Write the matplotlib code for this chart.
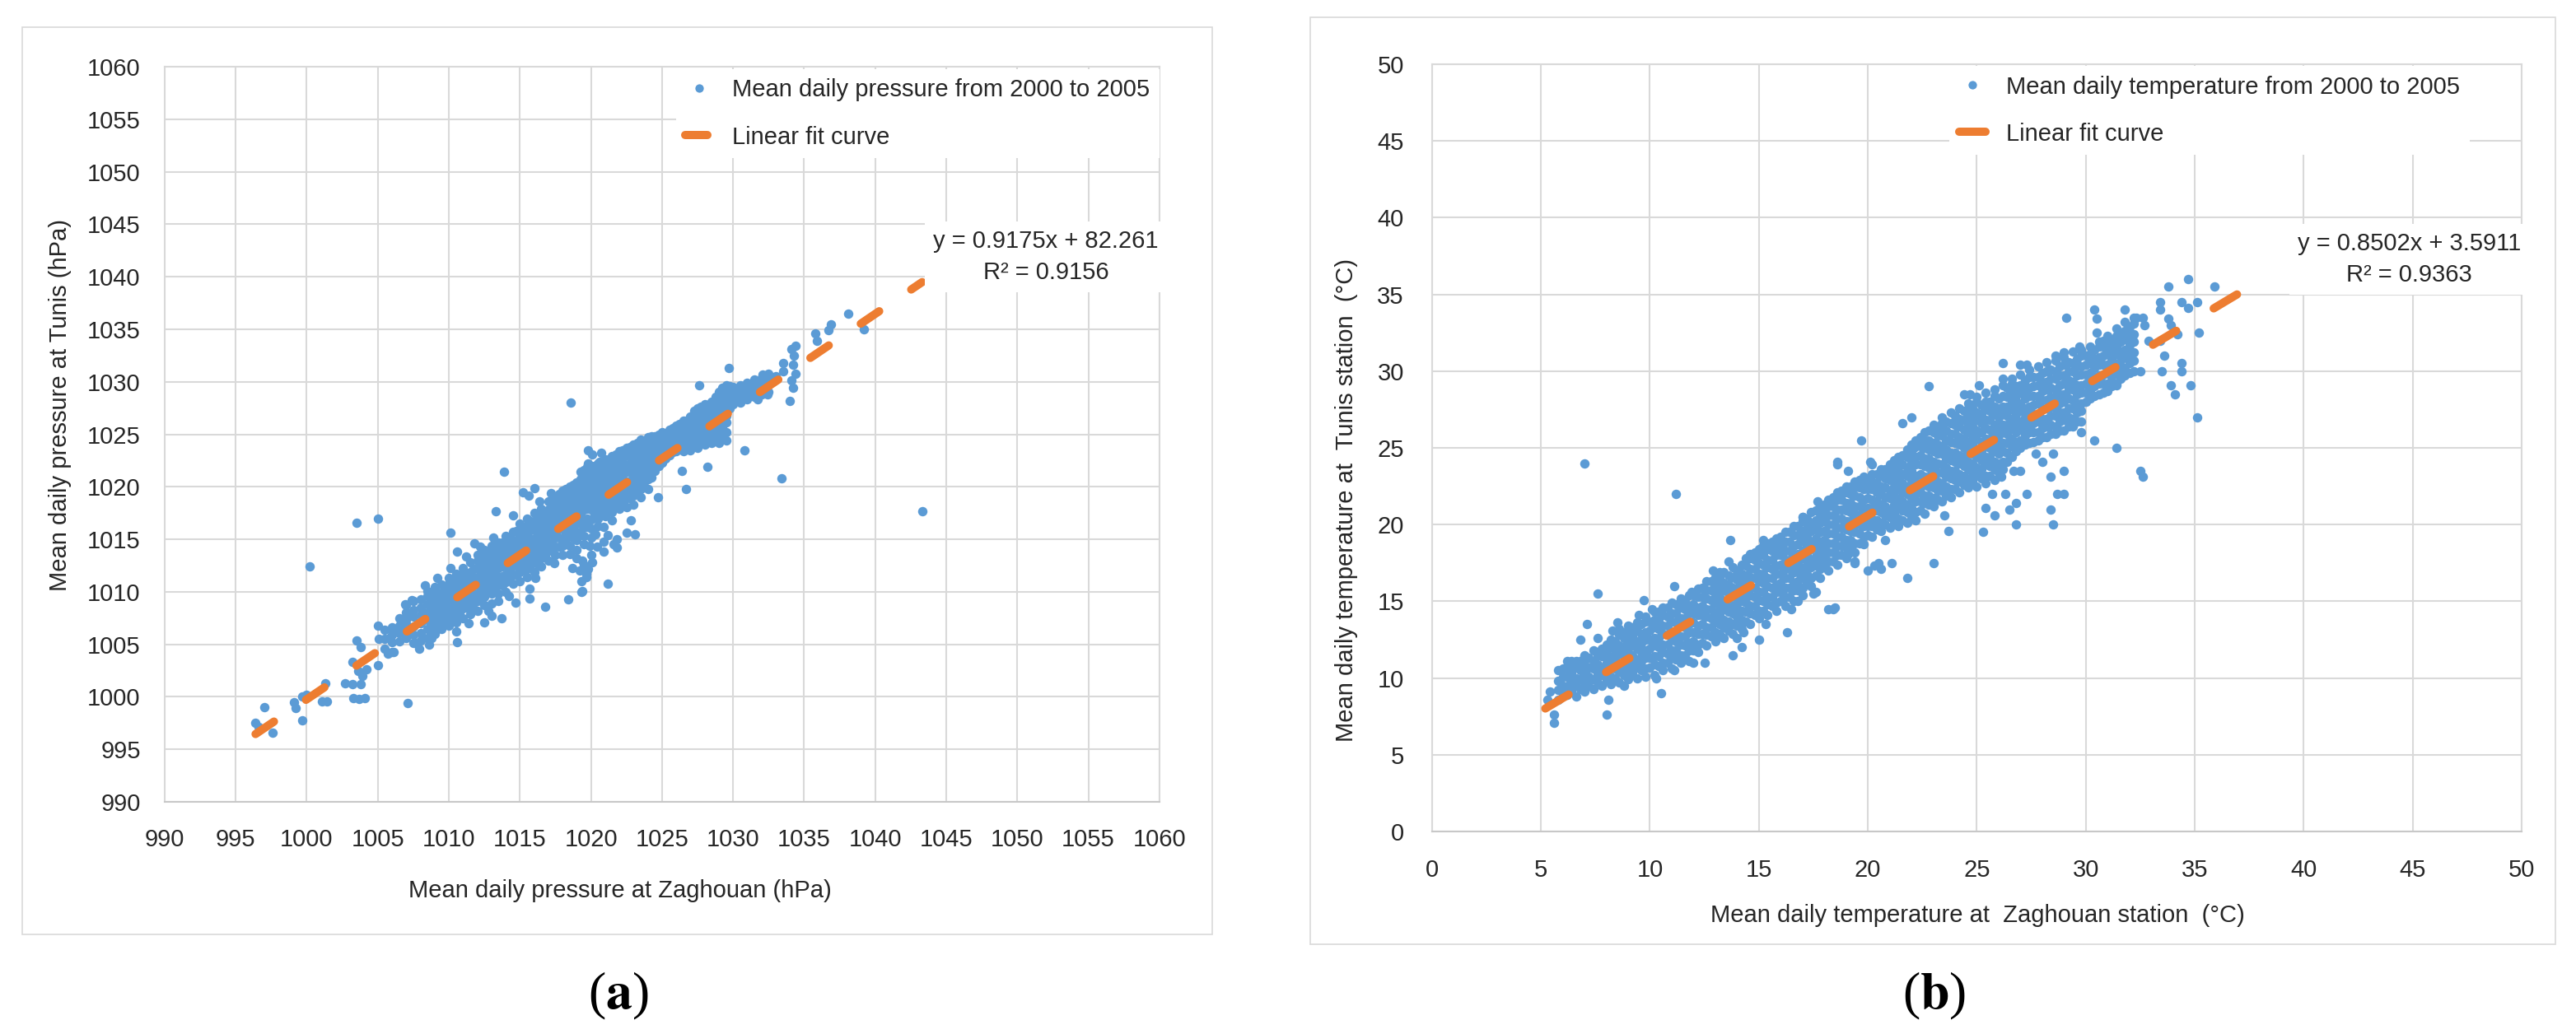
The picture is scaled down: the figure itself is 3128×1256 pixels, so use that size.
import matplotlib
matplotlib.use('Agg')
import matplotlib.pyplot as plt
from matplotlib.patches import Rectangle
from matplotlib.lines import Line2D

plt.rcParams['font.family'] = ['Liberation Sans', 'DejaVu Sans']
plt.rcParams['mathtext.fontset'] = 'stix'

BLUE = '#5B9BD5'
ORANGE = '#ED7D31'
GRID = '#D9D9D9'
TXT = '#262626'

# ---------------- (a) mean daily pressure, Zaghouan vs Tunis (hPa) ----------------
# dense part of the cloud, read column by column: (Zaghouan, [Tunis values])
pres_cols = [
    (1005.5, [1004.6, 1005.5, 1006.4]),
    (1006.0, [1004.3, 1005.2, 1005.9, 1006.6]),
    (1006.5, [1005.3, 1006.1, 1006.8, 1007.5]),
    (1007.0, [1005.6, 1006.4, 1007.3, 1008.0, 1008.7]),
    (1007.5, [1005.1, 1005.9, 1006.7, 1007.6, 1008.3, 1009.1]),
    (1008.0, [1005.4, 1006.1, 1007.0, 1007.8, 1008.5, 1009.3]),
    (1008.5, [1005.6, 1006.5, 1007.3, 1008.0, 1008.8, 1009.6, 1010.1]),
    (1009.0, [1006.0, 1006.8, 1007.7, 1008.4, 1009.2, 1009.9, 1010.5]),
    (1009.5, [1006.5, 1007.4, 1008.1, 1009.0, 1009.7, 1010.7]),
    (1010.0, [1006.8, 1007.7, 1008.4, 1009.3, 1010.0, 1010.8, 1011.3]),
    (1010.5, [1007.1, 1007.8, 1008.7, 1009.4, 1010.3, 1011.0, 1011.7]),
    (1011.0, [1007.5, 1008.4, 1009.1, 1010.0, 1010.7, 1011.6, 1012.3]),
    (1011.5, [1007.9, 1008.7, 1009.6, 1010.3, 1011.2, 1011.9, 1012.8]),
    (1012.0, [1008.2, 1009.1, 1009.8, 1010.7, 1011.4, 1012.3, 1013.0, 1013.5]),
    (1012.5, [1008.7, 1009.5, 1010.4, 1011.1, 1012.0, 1012.7, 1013.5, 1014.0]),
    (1013.0, [1008.9, 1009.8, 1010.5, 1011.4, 1012.1, 1013.0, 1013.7, 1014.4]),
    (1013.5, [1009.1, 1009.8, 1010.7, 1011.4, 1012.3, 1013.0, 1013.9, 1014.7]),
    (1014.0, [1010.0, 1010.9, 1011.6, 1012.5, 1013.2, 1014.1, 1014.8, 1015.3]),
    (1014.5, [1010.8, 1011.6, 1012.5, 1013.2, 1014.1, 1014.8, 1015.7]),
    (1015.0, [1011.0, 1011.9, 1012.6, 1013.5, 1014.2, 1015.1, 1015.8, 1016.5]),
    (1015.5, [1011.4, 1012.2, 1013.1, 1013.8, 1014.7, 1015.4, 1016.3, 1017.0]),
    (1016.0, [1011.9, 1012.8, 1013.5, 1014.4, 1015.1, 1016.0, 1016.7, 1017.5]),
    (1016.5, [1012.4, 1013.2, 1014.1, 1014.8, 1015.7, 1016.4, 1017.3, 1017.9]),
    (1017.0, [1013.0, 1013.9, 1014.6, 1015.5, 1016.2, 1017.1, 1017.8, 1018.6]),
    (1017.5, [1013.5, 1014.3, 1015.2, 1015.9, 1016.8, 1017.5, 1018.4, 1019.1]),
    (1018.0, [1013.5, 1014.4, 1015.1, 1016.0, 1016.7, 1017.6, 1018.3, 1019.0, 1019.6]),
    (1018.5, [1013.6, 1014.4, 1015.3, 1016.0, 1016.9, 1017.6, 1018.5, 1019.2, 1020.0]),
    (1019.0, [1014.0, 1014.9, 1015.6, 1016.5, 1017.2, 1018.1, 1018.8, 1019.7, 1020.4]),
    (1019.5, [1014.5, 1015.3, 1016.2, 1016.9, 1017.8, 1018.5, 1019.4, 1020.1, 1020.9, 1021.6]),
    (1020.0, [1016.9, 1017.8, 1018.5, 1019.4, 1020.1, 1020.9, 1021.6, 1022.0]),
    (1020.5, [1017.0, 1017.9, 1018.6, 1019.5, 1020.2, 1021.1, 1021.8, 1022.2]),
    (1021.0, [1017.2, 1018.1, 1018.8, 1019.7, 1020.4, 1021.3, 1022.1, 1022.6]),
    (1021.5, [1017.6, 1018.4, 1019.3, 1020.0, 1020.9, 1021.6, 1022.4, 1022.9]),
    (1022.0, [1017.9, 1018.8, 1019.5, 1020.4, 1021.1, 1022.0, 1022.7, 1023.4]),
    (1022.5, [1018.1, 1018.9, 1019.8, 1020.5, 1021.4, 1022.1, 1023.0, 1023.7]),
    (1023.0, [1018.3, 1019.2, 1019.9, 1020.8, 1021.5, 1022.4, 1023.1, 1024.0]),
    (1023.5, [1019.0, 1019.8, 1020.7, 1021.4, 1022.3, 1023.0, 1023.9, 1024.5]),
    (1024.0, [1019.8, 1020.7, 1021.4, 1022.3, 1023.0, 1023.9, 1024.7]),
    (1024.5, [1021.5, 1022.3, 1023.2, 1023.9, 1024.8]),
    (1025.0, [1022.3, 1023.2, 1023.9, 1024.7, 1025.2]),
    (1025.5, [1023.0, 1023.8, 1024.7, 1025.4]),
    (1026.0, [1023.4, 1024.3, 1025.0, 1025.8]),
    (1026.5, [1023.4, 1024.2, 1025.1, 1025.8, 1026.3]),
    (1027.0, [1023.5, 1024.4, 1025.1, 1026.0, 1026.7]),
    (1027.5, [1023.7, 1024.5, 1025.4, 1026.1, 1027.0, 1027.5]),
    (1028.0, [1024.0, 1024.9, 1025.6, 1026.5, 1027.2, 1027.9]),
    (1028.5, [1024.2, 1025.0, 1025.9, 1026.6, 1027.5, 1028.1]),
    (1029.0, [1024.2, 1025.1, 1025.8, 1026.7, 1027.4, 1028.3, 1029.0]),
    (1029.5, [1024.4, 1025.2, 1026.1, 1026.8, 1027.7, 1028.4, 1029.2, 1029.7]),
    (1030.0, [1027.9, 1028.8, 1029.5]),
    (1030.5, [1028.0, 1028.8, 1029.7]),
    (1031.0, [1028.3, 1029.2, 1029.9]),
    (1031.5, [1028.6, 1029.4, 1030.2]),
    (1032.0, [1028.8, 1029.7, 1030.4]),
    (1032.5, [1029.0, 1030.1, 1030.8]),
]
# days in between those columns, middle of the band
pres_mid = [
    (1008.75, [1006.2, 1007.0, 1007.8, 1008.6, 1009.4]),
    (1009.25, [1006.7, 1007.5, 1008.3, 1009.1, 1009.9]),
    (1009.75, [1007.1, 1007.9, 1008.7, 1009.5, 1010.3]),
    (1010.25, [1007.6, 1008.4, 1009.2, 1010.0, 1010.8]),
    (1010.75, [1008.0, 1008.8, 1009.7, 1010.5, 1011.3]),
    (1011.25, [1008.5, 1009.3, 1010.1, 1010.9, 1011.7]),
    (1011.75, [1008.9, 1009.8, 1010.6, 1011.4, 1012.2]),
    (1012.25, [1009.4, 1010.2, 1011.0, 1011.8, 1012.6, 1013.3]),
    (1012.75, [1009.9, 1010.7, 1011.5, 1012.3, 1013.1, 1013.8]),
    (1013.25, [1010.2, 1011.1, 1011.9, 1012.7, 1013.5, 1014.2]),
    (1013.75, [1010.6, 1011.5, 1012.4, 1013.2, 1014.0, 1014.7]),
    (1014.25, [1011.2, 1012.0, 1012.9, 1013.7, 1014.5, 1015.2]),
    (1014.75, [1011.6, 1012.5, 1013.3, 1014.1, 1014.9, 1015.8]),
    (1015.25, [1012.1, 1012.9, 1013.8, 1014.6, 1015.4, 1016.2]),
    (1015.75, [1012.5, 1013.4, 1014.2, 1015.0, 1015.9, 1016.7]),
    (1016.25, [1013.0, 1013.8, 1014.7, 1015.5, 1016.3, 1017.1]),
    (1016.75, [1013.4, 1014.3, 1015.1, 1016.0, 1016.8, 1017.6]),
    (1017.25, [1013.9, 1014.7, 1015.6, 1016.4, 1017.3, 1018.1, 1018.8]),
    (1017.75, [1014.3, 1015.2, 1016.0, 1016.9, 1017.7, 1018.5, 1019.3]),
    (1018.25, [1014.7, 1015.6, 1016.5, 1017.3, 1018.2, 1019.0, 1019.8]),
    (1018.75, [1015.2, 1016.1, 1016.9, 1017.8, 1018.6, 1019.4, 1020.2]),
    (1019.25, [1015.7, 1016.5, 1017.4, 1018.2, 1019.1, 1019.9, 1020.7, 1021.4]),
    (1019.75, [1016.2, 1017.0, 1017.9, 1018.7, 1019.6, 1020.4, 1021.2, 1021.9]),
    (1020.25, [1017.4, 1018.2, 1019.0, 1019.8, 1020.6, 1021.4, 1022.0]),
    (1020.75, [1017.6, 1018.4, 1019.3, 1020.1, 1020.9, 1021.6, 1022.3]),
    (1021.25, [1017.9, 1018.7, 1019.6, 1020.4, 1021.2, 1022.0, 1022.6]),
    (1021.75, [1018.3, 1019.1, 1019.9, 1020.7, 1021.5, 1022.3, 1023.1]),
    (1022.25, [1018.6, 1019.4, 1020.3, 1021.1, 1021.9, 1022.7, 1023.5]),
    (1022.75, [1018.9, 1019.7, 1020.6, 1021.4, 1022.2, 1023.0, 1023.8]),
    (1023.25, [1019.4, 1020.3, 1021.1, 1021.9, 1022.7, 1023.5, 1024.2]),
    (1023.75, [1020.1, 1021.0, 1021.8, 1022.6, 1023.4, 1024.2]),
    (1024.25, [1020.9, 1021.8, 1022.6, 1023.4, 1024.2, 1024.8]),
    (1024.75, [1022.0, 1022.8, 1023.5, 1024.3, 1025.0]),
    (1025.25, [1022.7, 1023.5, 1024.3, 1025.0]),
    (1025.75, [1023.3, 1024.1, 1024.9, 1025.6]),
    (1026.25, [1023.8, 1024.6, 1025.4, 1026.0]),
    (1026.75, [1023.9, 1024.7, 1025.5, 1026.3]),
    (1027.25, [1024.1, 1024.9, 1025.7, 1026.5, 1027.2]),
    (1027.75, [1024.4, 1025.2, 1026.0, 1026.8, 1027.6]),
    (1028.25, [1024.6, 1025.4, 1026.2, 1027.0, 1027.8]),
    (1028.75, [1024.7, 1025.5, 1026.3, 1027.1, 1027.9, 1028.6]),
    (1029.25, [1024.8, 1025.6, 1026.4, 1027.2, 1028.0, 1028.8, 1029.4]),
    (1029.75, [1027.5, 1028.3, 1029.1, 1029.6]),
    (1030.25, [1028.4, 1029.2]),
    (1030.75, [1028.5, 1029.3]),
    (1031.25, [1028.8, 1029.6]),
    (1031.75, [1029.1, 1029.9]),
]
# scattered days around the cloud (Zaghouan, Tunis)
pres_out = [
    (996.4, 997.5), (996.6, 997.1), (997.0, 999.0), (997.6, 996.6), (999.1, 999.5),
    (999.2, 998.9), (999.7, 997.8), (999.7, 1000.0), (1000.0, 1000.2), (1001.1, 999.6),
    (1001.4, 999.6), (1001.3, 1001.3), (1000.2, 1012.4), (1003.5, 1016.6), (1005.0, 1017.0),
    (1002.7, 1001.3), (1003.2, 1001.2), (1003.8, 1001.2), (1003.9, 1002.0), (1003.2, 1003.3),
    (1003.6, 1002.5), (1004.2, 1002.6), (1003.5, 1005.4), (1003.8, 1004.7), (1005.0, 1006.8),
    (1005.1, 1005.5), (1005.0, 1003.0), (1003.3, 999.9), (1003.7, 999.8), (1004.1, 999.9),
    (1007.1, 999.4), (1005.7, 1004.1), (1006.1, 1004.3), (1005.8, 1005.6), (1006.0, 1006.4),
    (1006.4, 1006.2), (1006.9, 1006.7), (1007.0, 1006.9), (1006.9, 1008.8), (1007.4, 1009.2),
    (1007.6, 1005.1), (1007.9, 1004.6), (1008.6, 1005.0), (1008.8, 1005.6),
    (1010.1, 1015.6), (1010.6, 1013.8), (1010.1, 1012.3), (1011.8, 1014.6), (1013.3, 1017.7),
    (1013.9, 1021.4), (1014.5, 1017.3), (1015.2, 1019.5), (1015.6, 1019.2), (1016.0, 1019.9),
    (1014.7, 1009.0), (1015.7, 1009.4), (1016.8, 1008.6), (1018.4, 1009.3), (1019.4, 1010.1),
    (1019.3, 1011.0), (1019.7, 1011.4), (1018.7, 1012.3), (1019.8, 1022.2), (1020.1, 1023.1),
    (1012.5, 1007.1), (1013.0, 1007.7), (1013.7, 1007.5), (1010.6, 1005.2), (1010.5, 1006.2),
    (1010.0, 1007.2), (1011.7, 1008.3), (1015.7, 1010.3), (1016.3, 1012.6), (1018.6, 1028.0),
    (1019.0, 1013.2), (1019.5, 1012.6), (1020.0, 1013.5), (1020.0, 1015.2), (1020.0, 1016.0),
    (1019.9, 1014.4), (1019.2, 1012.0), (1019.4, 1013.0), (1019.8, 1012.2), (1020.3, 1015.5),
    (1020.5, 1016.3), (1020.9, 1016.2), (1021.2, 1015.4), (1021.5, 1016.8), (1021.8, 1015.0),
    (1021.6, 1014.5), (1020.9, 1014.8), (1011.2, 1013.4), (1012.2, 1014.3), (1013.1, 1015.2),
    (1016.4, 1018.6), (1017.2, 1019.4), (1014.2, 1009.6), (1016.1, 1011.3), (1017.4, 1012.7),
    (1009.2, 1011.3), (1008.3, 1010.6), (1011.4, 1007.0), (1012.8, 1008.2),
    (1027.6, 1029.7), (1029.7, 1031.3), (1030.8, 1023.5), (1028.2, 1021.9), (1033.4, 1020.8),
    (1043.3, 1017.7), (1035.8, 1034.6), (1035.9, 1033.9), (1036.9, 1035.5), (1036.7, 1034.9),
    (1038.1, 1036.5), (1039.2, 1035.0), (1034.4, 1033.4), (1034.1, 1033.1), (1034.0, 1028.2),
    (1034.2, 1029.4), (1034.1, 1030.1), (1033.5, 1031.8), (1032.1, 1030.7), (1031.7, 1028.3),
    (1032.4, 1028.8), (1024.7, 1019.0), (1026.7, 1019.8), (1026.4, 1021.5), (1021.2, 1010.8),
    (1020.1, 1012.8), (1020.9, 1013.8), (1020.4, 1014.3), (1021.8, 1014.2), (1022.5, 1015.6),
    (1023.1, 1015.5), (1022.8, 1016.8), (1019.3, 1010.0), (1019.7, 1011.7), (1019.8, 1023.5),
    (1020.7, 1023.2), (1020.6, 1022.4), (1022.4, 1023.3), (1033.5, 1031.0), (1034.3, 1032.5),
    (1033.0, 1030.5), (1034.4, 1030.8), (1034.2, 1031.6),
]
pres_slope, pres_icpt, pres_r2 = 0.9175, 82.261, 0.9156
pres_fit_x = [996.4, 1043.3]
pres_ticks = list(range(990, 1061, 5))

# ---------------- (b) mean daily temperature, Zaghouan vs Tunis (degC) ----------------
temp_cols = [
    (5.8, [8.6, 9.2, 9.8, 10.5]),
    (6.2, [8.9, 9.4, 10.1, 10.6]),
    (6.6, [8.8, 9.5, 10.0, 10.7, 11.1]),
    (7.0, [9.1, 9.7, 10.3, 10.9, 11.4]),
    (7.4, [9.3, 9.9, 10.6, 11.1, 11.8]),
    (7.8, [9.5, 10.2, 10.7, 11.4, 11.9]),
    (8.2, [9.6, 10.1, 10.8, 11.3, 12.0, 12.5]),
    (8.6, [9.7, 10.4, 10.9, 11.6, 12.1, 12.8, 13.2]),
    (9.0, [9.9, 10.5, 11.1, 11.7, 12.3, 12.9, 13.4]),
    (9.4, [10.0, 10.7, 11.2, 11.9, 12.4, 13.1, 13.6]),
    (9.8, [10.1, 10.6, 11.3, 11.8, 12.5, 13.0, 13.7, 14.0]),
    (10.2, [10.2, 10.9, 11.4, 12.1, 12.6, 13.3, 13.8, 14.3]),
    (10.6, [10.5, 11.0, 11.7, 12.2, 12.9, 13.4, 14.1, 14.6]),
    (11.0, [10.6, 11.3, 11.8, 12.5, 13.0, 13.7, 14.2, 14.9]),
    (11.4, [11.0, 11.5, 12.2, 12.7, 13.4, 13.9, 14.6, 15.2]),
    (11.8, [11.1, 11.8, 12.3, 13.0, 13.5, 14.2, 14.7, 15.4]),
    (12.2, [11.7, 12.2, 12.9, 13.4, 14.1, 14.6, 15.3, 15.8]),
    (12.6, [12.1, 12.8, 13.3, 14.0, 14.5, 15.2, 15.7, 16.3]),
    (13.0, [12.4, 13.0, 13.7, 14.2, 14.9, 15.4, 16.1, 16.6]),
    (13.4, [12.6, 13.3, 13.8, 14.5, 15.0, 15.7, 16.2, 16.9]),
    (13.8, [12.9, 13.5, 14.2, 14.7, 15.4, 15.9, 16.6, 17.2]),
    (14.2, [13.2, 13.8, 14.4, 15.0, 15.6, 16.2, 16.8, 17.4]),
    (14.6, [13.5, 14.2, 14.7, 15.4, 15.9, 16.6, 17.1, 17.8, 18.1]),
    (15.0, [13.9, 14.4, 15.1, 15.6, 16.3, 16.8, 17.5, 18.0, 18.4]),
    (15.4, [14.1, 14.8, 15.3, 16.0, 16.5, 17.2, 17.7, 18.4, 18.8]),
    (15.8, [14.4, 14.9, 15.6, 16.1, 16.8, 17.3, 18.0, 18.5, 19.1]),
    (16.2, [14.7, 15.3, 15.9, 16.5, 17.1, 17.7, 18.3, 18.9, 19.5]),
    (16.6, [15.0, 15.7, 16.2, 16.9, 17.4, 18.1, 18.6, 19.3, 19.9]),
    (17.0, [15.4, 15.9, 16.6, 17.1, 17.8, 18.3, 19.0, 19.5, 20.2, 20.5]),
    (17.4, [16.0, 16.5, 17.2, 17.7, 18.4, 18.9, 19.6, 20.1, 20.8]),
    (17.8, [16.5, 17.1, 17.7, 18.3, 18.9, 19.5, 20.1, 20.7, 21.2]),
    (18.2, [17.0, 17.6, 18.2, 18.8, 19.4, 20.0, 20.6, 21.2, 21.6]),
    (18.6, [17.4, 18.0, 18.6, 19.2, 19.8, 20.4, 21.0, 21.6, 22.1]),
    (19.0, [17.8, 18.5, 19.0, 19.7, 20.2, 20.9, 21.4, 22.1, 22.5]),
    (19.4, [18.2, 18.8, 19.5, 20.0, 20.7, 21.2, 21.9, 22.4, 22.8]),
    (19.8, [18.7, 19.2, 19.9, 20.4, 21.1, 21.6, 22.3, 22.8, 23.1]),
    (20.2, [19.2, 19.9, 20.4, 21.1, 21.6, 22.3, 22.8, 23.3]),
    (20.6, [19.6, 20.1, 20.8, 21.3, 22.0, 22.5, 23.2, 23.6]),
    (21.0, [19.8, 20.5, 21.0, 21.7, 22.2, 22.9, 23.4, 23.9]),
    (21.4, [19.9, 20.4, 21.1, 21.6, 22.3, 22.8, 23.5, 24.0, 24.4]),
    (21.8, [20.1, 20.8, 21.3, 22.0, 22.5, 23.2, 23.7, 24.4, 24.9]),
    (22.2, [20.3, 20.8, 21.5, 22.0, 22.7, 23.2, 23.9, 24.4, 25.1, 25.5]),
    (22.6, [20.7, 21.4, 21.9, 22.6, 23.1, 23.8, 24.3, 25.0, 25.5, 26.0]),
    (23.0, [21.2, 21.7, 22.4, 22.9, 23.6, 24.1, 24.8, 25.3, 26.0, 26.5]),
    (23.4, [21.5, 22.2, 22.7, 23.4, 23.9, 24.6, 25.1, 25.8, 26.3, 27.0]),
    (23.8, [21.8, 22.3, 23.0, 23.5, 24.2, 24.7, 25.4, 25.9, 26.6, 27.3]),
    (24.2, [22.1, 22.8, 23.3, 24.0, 24.5, 25.2, 25.7, 26.4, 26.9, 27.6]),
    (24.6, [22.4, 22.9, 23.6, 24.1, 24.8, 25.3, 26.0, 26.5, 27.2, 27.9]),
    (25.0, [22.5, 23.2, 23.7, 24.4, 24.9, 25.6, 26.1, 26.8, 27.3, 28.0, 28.3]),
    (25.4, [22.7, 23.2, 23.9, 24.4, 25.1, 25.6, 26.3, 26.8, 27.5, 28.0, 28.6]),
    (25.8, [22.9, 23.6, 24.1, 24.8, 25.3, 26.0, 26.5, 27.2, 27.7, 28.4, 28.8]),
    (26.2, [23.6, 24.1, 24.8, 25.3, 26.0, 26.5, 27.2, 27.7, 28.4, 29.1]),
    (26.6, [24.4, 25.1, 25.6, 26.3, 26.8, 27.5, 28.0, 28.7, 29.2, 29.5]),
    (27.0, [25.0, 25.5, 26.2, 26.7, 27.4, 27.9, 28.6, 29.1, 29.8]),
    (27.4, [25.3, 26.0, 26.5, 27.2, 27.7, 28.4, 28.9, 29.6, 30.1]),
    (27.8, [25.5, 26.0, 26.7, 27.2, 27.9, 28.4, 29.1, 29.6, 30.3]),
    (28.2, [25.7, 26.4, 26.9, 27.6, 28.1, 28.8, 29.3, 30.0, 30.6]),
    (28.6, [25.9, 26.4, 27.1, 27.6, 28.3, 28.8, 29.5, 30.0, 30.7, 31.0]),
    (29.0, [26.1, 26.8, 27.3, 28.0, 28.5, 29.2, 29.7, 30.4, 30.9, 31.2]),
    (29.4, [26.4, 26.9, 27.6, 28.1, 28.8, 29.3, 30.0, 30.5, 31.3]),
    (29.8, [26.7, 27.4, 27.9, 28.6, 29.1, 29.8, 30.3, 31.0, 31.4]),
    (30.2, [28.2, 28.7, 29.4, 29.9, 30.6, 31.1, 31.6]),
    (30.6, [28.5, 29.2, 29.7, 30.4, 30.9, 31.6, 31.9]),
    (31.0, [28.7, 29.2, 29.9, 30.4, 31.1, 31.6, 32.3]),
    (31.4, [29.2, 29.9, 30.4, 31.1, 31.6, 32.3, 32.8]),
    (31.8, [29.7, 30.2, 30.9, 31.4, 32.1, 32.6, 33.2]),
    (32.2, [30.0, 30.7, 31.2, 31.9, 32.4, 33.1, 33.5]),
]
temp_mid = [
    (6.0, [8.9, 9.5, 10.1]),
    (6.4, [9.1, 9.7, 10.3, 10.9]),
    (6.8, [9.3, 9.9, 10.5, 11.1]),
    (7.2, [9.5, 10.1, 10.7, 11.3]),
    (7.6, [9.7, 10.3, 10.9, 11.5]),
    (8.0, [9.8, 10.4, 11.0, 11.6, 12.2]),
    (8.4, [10.0, 10.6, 11.2, 11.8, 12.4]),
    (8.8, [10.2, 10.8, 11.4, 12.0, 12.6, 13.0]),
    (9.2, [10.3, 10.9, 11.5, 12.1, 12.7, 13.3]),
    (9.6, [10.5, 11.1, 11.7, 12.3, 12.9, 13.5]),
    (10.0, [10.7, 11.3, 11.9, 12.5, 13.1, 13.7]),
    (10.4, [10.8, 11.4, 12.0, 12.6, 13.2, 13.8, 14.3]),
    (10.8, [11.0, 11.6, 12.2, 12.8, 13.4, 14.0, 14.6]),
    (11.2, [11.2, 11.8, 12.4, 13.0, 13.6, 14.2, 14.8]),
    (11.6, [11.5, 12.1, 12.7, 13.3, 13.9, 14.5, 15.1]),
    (12.0, [11.8, 12.4, 13.0, 13.6, 14.2, 14.8, 15.4]),
    (12.4, [12.3, 12.9, 13.5, 14.1, 14.7, 15.3, 15.9]),
    (12.8, [12.7, 13.3, 13.9, 14.5, 15.1, 15.7, 16.3]),
    (13.2, [12.9, 13.5, 14.1, 14.7, 15.3, 15.9, 16.5]),
    (13.6, [13.1, 13.7, 14.3, 14.9, 15.5, 16.1, 16.7]),
    (14.0, [13.4, 14.0, 14.6, 15.2, 15.8, 16.4, 17.0]),
    (14.4, [13.7, 14.3, 14.9, 15.5, 16.1, 16.7, 17.3, 17.8]),
    (14.8, [14.1, 14.7, 15.3, 15.9, 16.5, 17.1, 17.7, 18.2]),
    (15.2, [14.4, 15.0, 15.6, 16.2, 16.8, 17.4, 18.0, 18.6]),
    (15.6, [14.7, 15.3, 15.9, 16.5, 17.1, 17.7, 18.3, 18.9]),
    (16.0, [15.0, 15.6, 16.2, 16.8, 17.4, 18.0, 18.6, 19.2]),
    (16.4, [15.3, 15.9, 16.5, 17.1, 17.7, 18.3, 18.9, 19.5]),
    (16.8, [15.7, 16.3, 16.9, 17.5, 18.1, 18.7, 19.3, 19.9]),
    (17.2, [16.2, 16.8, 17.4, 18.0, 18.6, 19.2, 19.8, 20.4]),
    (17.6, [16.7, 17.3, 17.9, 18.5, 19.1, 19.7, 20.3, 20.9]),
    (18.0, [17.2, 17.8, 18.4, 19.0, 19.6, 20.2, 20.8, 21.3]),
    (18.4, [17.6, 18.2, 18.8, 19.4, 20.0, 20.6, 21.2, 21.8]),
    (18.8, [18.0, 18.6, 19.2, 19.8, 20.4, 21.0, 21.6, 22.2]),
    (19.2, [18.4, 19.0, 19.6, 20.2, 20.8, 21.4, 22.0, 22.5]),
    (19.6, [18.8, 19.4, 20.0, 20.6, 21.2, 21.8, 22.4, 22.9]),
    (20.0, [19.3, 19.9, 20.5, 21.1, 21.7, 22.3, 22.9]),
    (20.4, [19.7, 20.3, 20.9, 21.5, 22.1, 22.7, 23.3]),
    (20.8, [20.0, 20.6, 21.2, 21.8, 22.4, 23.0, 23.6]),
    (21.2, [20.1, 20.7, 21.3, 21.9, 22.5, 23.1, 23.7, 24.2]),
    (21.6, [20.3, 20.9, 21.5, 22.1, 22.7, 23.3, 23.9, 24.5]),
    (22.0, [20.5, 21.1, 21.7, 22.3, 22.9, 23.5, 24.1, 24.7, 25.2]),
    (22.4, [20.9, 21.5, 22.1, 22.7, 23.3, 23.9, 24.5, 25.1, 25.7]),
    (22.8, [21.3, 21.9, 22.5, 23.1, 23.7, 24.3, 24.9, 25.5, 26.1]),
    (23.2, [21.6, 22.2, 22.8, 23.4, 24.0, 24.6, 25.2, 25.8, 26.4]),
    (23.6, [21.9, 22.5, 23.1, 23.7, 24.3, 24.9, 25.5, 26.1, 26.7]),
    (24.0, [22.3, 22.9, 23.5, 24.1, 24.7, 25.3, 25.9, 26.5, 27.1]),
    (24.4, [22.6, 23.2, 23.8, 24.4, 25.0, 25.6, 26.2, 26.8, 27.4]),
    (24.8, [22.8, 23.4, 24.0, 24.6, 25.2, 25.8, 26.4, 27.0, 27.6]),
    (25.2, [23.0, 23.6, 24.2, 24.8, 25.4, 26.0, 26.6, 27.2, 27.8]),
    (25.6, [23.2, 23.8, 24.4, 25.0, 25.6, 26.2, 26.8, 27.4, 28.0]),
    (26.0, [23.4, 24.0, 24.6, 25.2, 25.8, 26.4, 27.0, 27.6, 28.2]),
    (26.4, [24.1, 24.7, 25.3, 25.9, 26.5, 27.1, 27.7, 28.3, 28.9]),
    (26.8, [24.8, 25.4, 26.0, 26.6, 27.2, 27.8, 28.4, 29.0]),
    (27.2, [25.2, 25.8, 26.4, 27.0, 27.6, 28.2, 28.8, 29.4]),
    (27.6, [25.4, 26.0, 26.6, 27.2, 27.8, 28.4, 29.0, 29.6]),
    (28.0, [25.7, 26.3, 26.9, 27.5, 28.1, 28.7, 29.3, 29.9]),
    (28.4, [25.9, 26.5, 27.1, 27.7, 28.3, 28.9, 29.5, 30.1]),
    (28.8, [26.1, 26.7, 27.3, 27.9, 28.5, 29.1, 29.7, 30.3]),
    (29.2, [26.4, 27.0, 27.6, 28.2, 28.8, 29.4, 30.0, 30.6]),
    (29.6, [26.7, 27.3, 27.9, 28.5, 29.1, 29.7, 30.3, 30.8]),
    (30.0, [28.0, 28.6, 29.2, 29.8, 30.4, 31.0]),
    (30.4, [28.4, 29.0, 29.6, 30.2, 30.8, 31.4]),
    (30.8, [28.6, 29.2, 29.8, 30.4, 31.0, 31.6]),
    (31.2, [29.0, 29.6, 30.2, 30.8, 31.4, 32.0]),
    (31.6, [29.5, 30.1, 30.7, 31.3, 31.9, 32.5]),
    (32.0, [29.9, 30.5, 31.1, 31.7, 32.3, 32.9]),
]
temp_out = [
    (5.4, 9.1), (5.6, 7.6), (5.6, 7.1), (5.3, 8.6), (6.2, 11.1), (6.4, 11.1), (6.0, 10.6),
    (6.3, 9.6), (6.6, 9.9), (7.1, 13.5), (6.8, 12.5), (7.6, 12.6), (7.0, 11.5), (8.1, 8.6),
    (8.0, 7.6), (7.6, 15.5), (8.5, 13.6), (8.3, 13.1), (9.2, 13.1), (8.8, 9.5), (9.7, 15.1),
    (9.5, 14.1), (10.1, 14.5), (10.5, 9.0), (10.3, 10.0), (11.1, 16.0), (11.2, 22.0),
    (11.9, 15.6), (12.0, 11.0), (12.5, 11.0), (11.1, 10.5), (12.9, 17.0), (13.2, 16.9),
    (13.7, 19.0), (13.6, 17.6), (13.8, 11.5), (14.2, 12.0), (14.3, 13.0), (14.0, 12.6),
    (15.2, 19.0), (15.0, 12.5), (15.3, 13.5), (16.3, 13.0), (17.0, 20.5), (16.5, 14.5),
    (16.8, 15.0), (17.7, 21.5), (17.5, 15.5), (18.2, 14.5), (18.4, 14.5), (19.1, 18.1),
    (19.4, 17.6), (20.0, 17.0), (20.3, 17.3), (7.0, 24.0), (17.6, 15.6), (18.5, 14.6),
    (18.9, 22.1), (19.4, 17.5), (19.7, 25.5), (18.6, 24.1), (19.1, 23.5), (20.1, 24.1),
    (20.2, 23.9), (18.6, 23.9), (20.5, 17.5), (20.6, 17.1), (20.8, 19.0), (21.1, 17.5),
    (21.6, 26.6), (22.0, 27.0), (21.8, 16.5), (22.1, 25.0), (22.8, 29.0), (23.4, 26.6),
    (23.5, 20.6), (23.7, 19.6), (23.0, 17.5), (24.4, 28.5), (24.7, 28.5), (25.1, 29.1),
    (25.3, 19.5), (25.4, 21.1), (25.7, 22.0), (25.8, 20.6), (26.1, 23.1), (26.2, 30.5),
    (26.2, 29.5), (26.3, 22.0), (26.8, 21.4), (26.5, 21.0), (26.8, 20.0), (26.7, 23.5),
    (27.0, 23.5), (27.3, 22.0), (27.0, 30.4), (27.3, 30.4), (27.7, 24.6), (28.0, 24.1),
    (28.4, 23.1), (28.4, 21.0), (28.5, 20.0), (28.7, 22.0), (29.0, 22.0), (28.5, 24.6),
    (29.1, 33.5), (29.0, 23.5), (29.8, 26.0), (29.7, 31.6), (30.4, 34.0), (30.5, 33.4),
    (30.5, 32.5), (30.8, 32.0), (30.4, 25.5), (31.4, 25.0), (31.4, 29.1), (31.8, 34.0),
    (32.3, 33.5), (32.6, 33.5), (32.7, 33.0), (32.5, 30.0), (32.5, 23.5), (32.6, 23.1),
    (32.9, 32.0), (33.4, 34.5), (33.4, 34.0), (33.8, 35.5), (33.8, 33.4), (33.9, 33.0),
    (33.4, 32.0), (33.6, 31.0), (33.5, 30.0), (33.9, 29.1), (34.1, 28.5), (34.4, 34.5),
    (34.7, 34.1), (34.7, 36.0), (35.1, 34.5), (35.2, 32.5), (34.4, 30.5), (34.4, 30.0),
    (34.8, 29.1), (35.1, 27.0), (35.9, 35.5), (34.2, 32.4),
]
temp_slope, temp_icpt, temp_r2 = 0.8502, 3.5911, 0.9363
temp_fit_x = [5.2, 37.8]
temp_ticks = list(range(0, 51, 5))


def flatten(col_sets, extra):
    xs, ys = [], []
    for cols in col_sets:
        for x, col in cols:
            xs += [x] * len(col)
            ys += col
    xs += [p[0] for p in extra]
    ys += [p[1] for p in extra]
    return xs, ys


FS = 21

fig = plt.figure(figsize=(31.28, 12.56), dpi=100)

# light frames around each chart
for r in [(0.0086, 0.0963, 0.462, 0.8774), (0.5086, 0.0868, 0.4834, 0.8968)]:
    fig.add_artist(Rectangle(r[:2], r[2], r[3], transform=fig.transFigure,
                             fill=False, ec=GRID, lw=1.2))


def panel(rect, col_sets, out, slope, icpt, r2, fit_x, ticks, lw, dashes,
          xlabel, ylabel, leg_label, xlab_pos, ylab_pos, ypad, xpad,
          leg_anchor, eq_pos):
    ax = fig.add_axes(rect)
    xs, ys = flatten(col_sets, out)
    ax.scatter(xs, ys, s=68, color=BLUE, linewidths=0, zorder=2)
    fit_y = [slope * x + icpt for x in fit_x]
    ax.plot(fit_x, fit_y, color=ORANGE, lw=lw, dashes=dashes,
            dash_capstyle='round', zorder=3)

    ax.set_xlim(ticks[0], ticks[-1])
    ax.set_ylim(ticks[0], ticks[-1])
    ax.set_xticks(ticks)
    ax.set_yticks(ticks)
    ax.grid(True, color=GRID, lw=1.5)
    ax.set_axisbelow(True)
    for s in ax.spines.values():
        s.set_color(GRID)
        s.set_linewidth(1.5)
    ax.spines['bottom'].set_color('#C8C8C8')
    ax.tick_params(length=0, labelsize=FS, labelcolor=TXT)
    ax.tick_params(axis='y', pad=ypad)
    ax.tick_params(axis='x', pad=xpad)

    ax.set_xlabel(xlabel, fontsize=FS, color=TXT)
    ax.set_ylabel(ylabel, fontsize=FS, color=TXT)
    ax.xaxis.set_label_coords(*xlab_pos)
    ax.yaxis.set_label_coords(*ylab_pos)
    ax.xaxis.label.set_va('center')
    ax.yaxis.label.set_va('center')

    handles = [
        Line2D([], [], ls='none', marker='o', ms=7.4, color=BLUE, mew=0),
        Line2D([], [], color=ORANGE, lw=lw, dashes=dashes, dash_capstyle='round'),
    ]
    leg = ax.legend(handles, [leg_label, 'Linear fit curve'], loc='upper left',
                    bbox_to_anchor=leg_anchor, fontsize=FS, frameon=True,
                    facecolor='white', edgecolor='none', framealpha=1,
                    fancybox=False, borderaxespad=0, borderpad=0.4,
                    handlelength=1.1, handletextpad=0.85, labelspacing=1.0)
    for t in leg.get_texts():
        t.set_color(TXT)

    eq = f'y = {slope}x + {icpt}\nR\u00b2 = {r2}'
    ax.text(eq_pos[0], eq_pos[1], eq, ha='center', va='center',
            multialignment='center', fontsize=FS, color=TXT, linespacing=1.45,
            bbox=dict(boxstyle='square,pad=0.35', fc='white', ec='none'), zorder=5)
    return ax


panel([0.0639, 0.2245, 0.3862, 0.7110], [pres_cols, pres_mid], pres_out,
      pres_slope, pres_icpt, pres_r2, pres_fit_x, pres_ticks, 7.2, (2.7, 4.7),
      'Mean daily pressure at Zaghouan (hPa)', 'Mean daily pressure at Tunis (hPa)',
      'Mean daily pressure from 2000 to 2005',
      (0.458, -0.121), (-0.1054, 0.540), 21, 23,
      (0.514, 0.997), (1052.0, 1041.9))

panel([0.5559, 0.1959, 0.4230, 0.7420], [temp_cols, temp_mid], temp_out,
      temp_slope, temp_icpt, temp_r2, temp_fit_x, temp_ticks, 7.2, (3.3, 5.3),
      'Mean daily temperature at  Zaghouan station  (\u00b0C)',
      'Mean daily temperature at  Tunis station  (\u00b0C)',
      'Mean daily temperature from 2000 to 2005',
      (0.5004, -0.1094), (-0.0786, 0.432), 24.5, 23.5,
      (0.475, 0.998), (44.84, 37.3))

fig.text(751 / 3128, 1 - 1210 / 1256, r'($\mathbf{a}$)', ha='center', va='center',
         fontsize=46, family='Liberation Serif')
fig.text(2349 / 3128, 1 - 1210 / 1256, r'($\mathbf{b}$)', ha='center', va='center',
         fontsize=46, family='Liberation Serif')

fig.savefig('out.png', dpi=100, facecolor='white')
